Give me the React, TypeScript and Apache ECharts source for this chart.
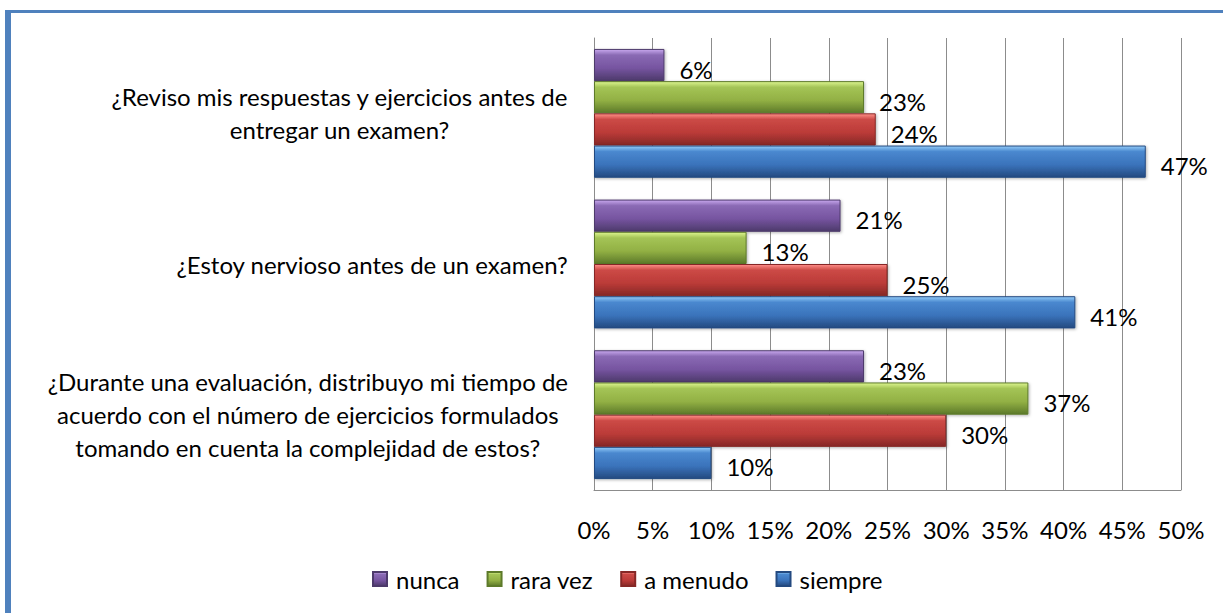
import React, { useEffect, useRef } from "react";
import * as echarts from "echarts";

const categories = [
  "¿Durante una evaluación, distribuyo mi tiempo de\nacuerdo con el número de ejercicios formulados\ntomando en cuenta la complejidad de estos?",
  "¿Estoy nervioso antes de un examen?",
  "¿Reviso mis respuestas y ejercicios antes de\nentregar un examen?",
];
const seriesNames = ["nunca", "rara vez", "a menudo", "siempre"];
const nunca = [23, 21, 6];
const raraVez = [37, 13, 23];
const aMenudo = [30, 25, 24];
const siempre = [10, 41, 47];
const xTicks = [0, 5, 10, 15, 20, 25, 30, 35, 40, 45, 50];

const palettes = [
  ["#c8a8ee", "#8a6ab4", "#7654a0", "#4d3a6b"],
  ["#dcf58e", "#a4c456", "#92b044", "#5d7a2a"],
  ["#ff8f89", "#cc4a46", "#bb3b38", "#862826"],
  ["#92cbf8", "#4a88cf", "#3a73bb", "#244a80"],
];

function grad(p: string[]) {
  return new echarts.graphic.LinearGradient(0, 0, 0, 1, [
    { offset: 0, color: p[0] },
    { offset: 0.18, color: p[1] },
    { offset: 0.6, color: p[2] },
    { offset: 1, color: p[3] },
  ]);
}

const FONT = "Lato";
const FS = 24;

export default function App() {
  const ref = useRef<HTMLDivElement>(null);
  useEffect(() => {
    const chart = echarts.init(ref.current!, null, { renderer: "svg" });
    const values = [nunca, raraVez, aMenudo, siempre];
    chart.setOption({
      animation: false,
      backgroundColor: "#ffffff",
      textStyle: { fontFamily: FONT, color: "#000" },
      grid: { left: 594, right: 42, top: 38, bottom: 123, containLabel: false },
      xAxis: {
        type: "value",
        min: 0,
        max: 50,
        interval: 5,
        axisLine: { show: true, lineStyle: { color: "#8c8c8c", width: 1 } },
        axisTick: { show: false },
        splitLine: { show: true, lineStyle: { color: "#8c8c8c", width: 1 } },
        axisLabel: {
          formatter: (v: number) => (xTicks.includes(v) ? v + "%" : ""),
          fontSize: FS,
          fontFamily: FONT,
          color: "#000",
          margin: 27,
        },
      },
      yAxis: {
        type: "category",
        data: categories,
        axisLine: { show: true, lineStyle: { color: "#8c8c8c", width: 1 } },
        axisTick: { show: false },
        axisLabel: {
          fontSize: FS,
          fontFamily: FONT,
          color: "#000",
          align: "right",
          margin: 26,
          formatter: (v: string) =>
            v
              .split("\n")
              .map((l) => "{c|" + l + "}")
              .join("\n"),
          rich: {
            c: {
              align: "center",
              fontSize: FS,
              fontFamily: FONT,
              color: "#000",
              lineHeight: 33,
            },
          },
        },
      },
      legend: {
        bottom: 17,
        left: 367,
        itemWidth: 14,
        itemHeight: 14,
        itemGap: 27,
        icon: "rect",
        data: seriesNames,
        textStyle: {
          fontSize: FS,
          fontFamily: FONT,
          color: "#000",
          padding: [0, 0, 0, 4],
        },
      },
      series: seriesNames.map((name, i) => ({
        name,
        type: "bar",
        data: values[i],
        barGap: "0%",
        barCategoryGap: "14.5%",
        itemStyle: {
          color: grad(palettes[i]),
          borderColor: palettes[i][3],
          borderWidth: 1,
          shadowColor: "rgba(0,0,0,0.3)",
          shadowBlur: 3,
          shadowOffsetX: 1,
          shadowOffsetY: 1,
        },
        label: {
          show: true,
          position: "right",
          distance: 15,
          offset: [0, 4],
          formatter: "{c}%",
          fontSize: FS,
          fontFamily: FONT,
          color: "#000",
        },
      })),
      graphic: [
        { type: "rect", shape: { x: 5, y: 10, width: 6, height: 620 }, style: { fill: "#4f81bd" }, silent: true },
        { type: "rect", shape: { x: 5, y: 10, width: 1240, height: 3 }, style: { fill: "#4f81bd" }, silent: true },
      ],
    });
    return () => chart.dispose();
  }, []);
  return (
    <div
      ref={ref}
      style={{ position: "fixed", left: 0, top: 0, width: 1223, height: 613 }}
    />
  );
}
